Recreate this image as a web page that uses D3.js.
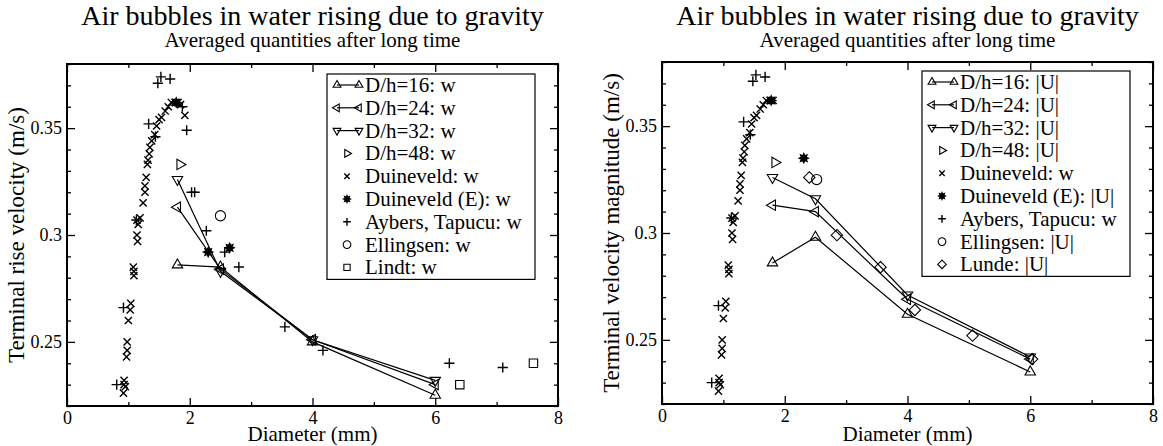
<!DOCTYPE html>
<html>
<head>
<meta charset="utf-8">
<script src="https://cdn.jsdelivr.net/npm/d3@7"></script>
<style>
	body { margin: 0; background: #fff; }
	svg { display: block; }
</style>
</head>
<body>
<div id="canvas"></div>
<script>
// Axis ticks
var ticksX = [0, 2, 4, 6, 8],
	tickLabelsX = ['0', '2', '4', '6', '8'],
	ticksY = [0.25, 0.3, 0.35],
	tickLabelsY = ['0.25', '0.3', '0.35'];

// Simulations (D/h resolution), diameter in mm
var dhDiameters = [1.8, 2.5, 4, 6];
var wDh16 = [0.286, 0.285, 0.250, 0.225],
	wDh24 = [0.313, 0.284, 0.251, 0.230],
	wDh32 = [0.326, 0.283, 0.251, 0.232],
	wDh48 = [[1.84, 0.333]];
var uDh16 = [0.286, 0.298, 0.262, 0.235],
	uDh24 = [0.313, 0.310, 0.269, 0.241],
	uDh32 = [0.326, 0.316, 0.271, 0.242],
	uDh48 = [[1.84, 0.333]];

// Experiments [diameter, velocity]
var duineveldW = [
	[0.93, 0.232], [0.95, 0.229], [0.92, 0.226], [0.93, 0.230],
	[0.97, 0.243], [0.98, 0.246], [0.98, 0.250], [1.00, 0.260],
	[1.03, 0.265], [1.04, 0.268], [1.09, 0.281], [1.09, 0.283],
	[1.08, 0.285], [1.15, 0.297], [1.14, 0.300], [1.14, 0.307],
	[1.19, 0.308], [1.16, 0.305], [1.24, 0.315], [1.27, 0.320],
	[1.27, 0.323], [1.29, 0.327], [1.31, 0.333], [1.32, 0.335],
	[1.34, 0.338], [1.35, 0.341], [1.38, 0.344], [1.43, 0.347],
	[1.46, 0.351], [1.50, 0.354], [1.54, 0.355], [1.60, 0.358],
	[1.65, 0.360], [1.70, 0.362], [1.76, 0.362], [1.81, 0.362]
];
var duineveldWExtra = [[1.85, 0.361], [1.92, 0.356]];
var duineveldEW = [[2.30, 0.292], [2.65, 0.294], [1.78, 0.362]],
	duineveldEU = [[2.31, 0.335], [1.78, 0.362]];
var aybersW = [
	[0.81, 0.230], [0.92, 0.266], [1.13, 0.307], [1.33, 0.352],
	[1.44, 0.346], [1.48, 0.371], [1.53, 0.374], [1.68, 0.373],
	[1.88, 0.360], [1.95, 0.349], [2.03, 0.320], [2.08, 0.320],
	[2.27, 0.302], [2.57, 0.292], [2.80, 0.285], [3.55, 0.257],
	[4.17, 0.246], [6.23, 0.240], [7.10, 0.238]
];
var aybersU = [
	[0.81, 0.230], [0.92, 0.266], [1.13, 0.307], [1.33, 0.352],
	[1.44, 0.346], [1.48, 0.371], [1.53, 0.374], [1.68, 0.373]
];
var ellingsenW = [[2.50, 0.309]],
	ellingsenU = [[2.52, 0.325]];
var lindtW = [[6.40, 0.230], [7.60, 0.240]];
var lundeU = [[2.40, 0.326], [2.85, 0.299], [3.56, 0.284], [4.12, 0.264], [5.06, 0.252], [6.03, 0.241]];

var fontFamily = "'Liberation Serif', 'Times New Roman', serif";

var svg = d3.select('#canvas').append('svg')
	.attr('width', 1163)
	.attr('height', 446);

// Marker shapes
function trianglePath(angle, s) {
	var p = [0, 1, 2].map(function(k) {
		var a = angle + k * 2 * Math.PI / 3;
		return [Math.cos(a) * s, Math.sin(a) * s];
	});
	return 'M' + p[0] + 'L' + p[1] + 'L' + p[2] + 'Z';
}

function symbolPath(type, s) {
	switch (type) {
		case 'triUp': return trianglePath(-Math.PI / 2, s);
		case 'triDown': return trianglePath(Math.PI / 2, s);
		case 'triLeft': return trianglePath(Math.PI, s);
		case 'triRight': return trianglePath(0, s);
		case 'cross':
			s *= 0.6;
			return 'M' + -s + ',' + -s + 'L' + s + ',' + s + 'M' + -s + ',' + s + 'L' + s + ',' + -s;
		case 'plus':
			s *= 0.85;
			return 'M' + -s + ',0L' + s + ',0M0,' + -s + 'L0,' + s;
		case 'circle':
			s *= 0.85;
			return 'M' + s + ',0A' + s + ',' + s + ' 0 1,1 ' + -s + ',0A' + s + ',' + s + ' 0 1,1 ' + s + ',0Z';
		case 'square':
			s *= 0.7;
			return 'M' + -s + ',' + -s + 'H' + s + 'V' + s + 'H' + -s + 'Z';
		case 'diamond':
			s *= 0.95;
			return 'M0,' + -s + 'L' + s + ',0L0,' + s + 'L' + -s + ',0Z';
		case 'star':
			var pts = d3.range(16).map(function(k) {
				var r = k % 2 ? s * 0.45 : s * 0.8,
					a = k * Math.PI / 8;
				return [Math.cos(a) * r, Math.sin(a) * r];
			});
			return 'M' + pts.join('L') + 'Z';
	}
}

function drawMarkers(g, pts, type, x, y, s) {
	g.selectAll(null)
		.data(pts)
		.enter()
		.append('path')
		.attr('transform', function(d) { return 'translate(' + x(d[0]) + ',' + y(d[1]) + ')'; })
		.attr('d', symbolPath(type, s))
		.attr('fill', type == 'star' ? '#000' : 'none')
		.attr('stroke', '#000')
		.attr('stroke-width', type == 'cross' || type == 'plus' ? 1.4 : 1.1);
}

// Draws one panel
function drawPanel(p) {
	var x = d3.scaleLinear().domain([0, 8]).range([p.left, p.right]),
		y = d3.scaleLinear().domain([0.22, 0.38]).range([p.bottom, p.top]),
		g = svg.append('g'),
		minorX = [1, 3, 5, 7],
		minorY = d3.range(22, 39).map(function(v) { return v / 100; })
			.filter(function(v) { return ticksY.indexOf(v) < 0; });

	// Titles
	g.append('text')
		.attr('x', (p.left + p.right) / 2)
		.attr('y', 25)
		.attr('text-anchor', 'middle')
		.attr('font-size', 28)
		.text(p.title);
	g.append('text')
		.attr('x', (p.left + p.right) / 2)
		.attr('y', 47)
		.attr('text-anchor', 'middle')
		.attr('font-size', 21)
		.text(p.subtitle);

	// Axes, ticks pointing inwards on all four sides
	var gx = g.append('g').attr('transform', 'translate(0,' + p.bottom + ')')
		.call(d3.axisBottom(x).tickValues(ticksX).tickSize(-8).tickPadding(4)
			.tickFormat(function(d, i) { return tickLabelsX[i]; }));
	g.append('g').attr('transform', 'translate(0,' + p.bottom + ')')
		.call(d3.axisBottom(x).tickValues(minorX).tickSize(-4).tickFormat(''));
	g.append('g').attr('transform', 'translate(0,' + p.top + ')')
		.call(d3.axisTop(x).tickValues(ticksX).tickSize(-8).tickFormat(''));
	g.append('g').attr('transform', 'translate(0,' + p.top + ')')
		.call(d3.axisTop(x).tickValues(minorX).tickSize(-4).tickFormat(''));
	g.append('g').attr('transform', 'translate(' + p.left + ',0)')
		.call(d3.axisLeft(y).tickValues(ticksY).tickSize(-8).tickPadding(5)
			.tickFormat(function(d, i) { return tickLabelsY[i]; }));
	g.append('g').attr('transform', 'translate(' + p.left + ',0)')
		.call(d3.axisLeft(y).tickValues(minorY).tickSize(-4).tickFormat(''));
	g.append('g').attr('transform', 'translate(' + p.right + ',0)')
		.call(d3.axisRight(y).tickValues(ticksY).tickSize(-8).tickFormat(''));
	g.append('g').attr('transform', 'translate(' + p.right + ',0)')
		.call(d3.axisRight(y).tickValues(minorY).tickSize(-4).tickFormat(''));
	g.selectAll('.domain').remove();
	g.selectAll('.tick line').attr('stroke', '#000').attr('stroke-width', 1.3);
	g.selectAll('.tick text').attr('font-size', 18);
	gx.selectAll('.tick text').attr('dy', '0.75em');

	g.append('rect')
		.attr('x', p.left)
		.attr('y', p.top)
		.attr('width', p.right - p.left)
		.attr('height', p.bottom - p.top)
		.attr('fill', 'none')
		.attr('stroke', '#000')
		.attr('stroke-width', 2);

	// Axis labels
	g.append('text')
		.attr('x', (p.left + p.right) / 2)
		.attr('y', 441)
		.attr('text-anchor', 'middle')
		.attr('font-size', 21)
		.text('Diameter (mm)');
	g.append('text')
		.attr('transform', 'translate(' + (p.left - 43) + ',' + ((p.top + p.bottom) / 2) + ') rotate(-90)')
		.attr('text-anchor', 'middle')
		.attr('font-size', 23)
		.text(p.yLabel);

	// Lines for the simulations
	var line = d3.line()
		.x(function(d, i) { return x(dhDiameters[i]); })
		.y(function(d) { return y(d); });
	p.series.forEach(function(s) {
		if (s.values) {
			g.append('path')
				.attr('d', line(s.values))
				.attr('fill', 'none')
				.attr('stroke', '#000')
				.attr('stroke-width', 1.2);
		}
	});
	p.series.forEach(function(s) {
		var pts = s.values ? s.values.map(function(v, i) { return [dhDiameters[i], v]; }) : s.points;
		drawMarkers(g, pts, s.type, x, y, 6);
	});

	// Legend
	var lg = g.append('g').attr('transform', 'translate(' + p.legendX + ',' + p.legendY + ')'),
		rowH = 22.8,
		same = function(v) { return v; };
	lg.append('rect')
		.attr('width', 208)
		.attr('height', 11 + rowH * (p.series.length - 1) + 12)
		.attr('fill', '#fff')
		.attr('stroke', '#000')
		.attr('stroke-width', 1.2);
	p.series.forEach(function(s, i) {
		var row = lg.append('g').attr('transform', 'translate(0,' + (11 + i * rowH) + ')');
		if (s.values) {
			row.append('line')
				.attr('x1', 10).attr('x2', 32)
				.attr('stroke', '#000').attr('stroke-width', 1.2);
			drawMarkers(row, [[10, 0], [32, 0]], s.type, same, same, 4.5);
		} else {
			drawMarkers(row, [[20, 0]], s.type, same, same, 4.5);
		}
		row.append('text')
			.attr('x', 38)
			.attr('dy', '0.33em')
			.attr('font-size', 21)
			.text(s.label);
	});
}

drawPanel({
	left: 67, right: 558, top: 64, bottom: 406,
	title: 'Air bubbles in water rising due to gravity',
	subtitle: 'Averaged quantities after long time',
	yLabel: 'Terminal rise velocity (m/s)',
	legendX: 327, legendY: 74,
	series: [
		{ label: 'D/h=16: w', type: 'triUp', values: wDh16 },
		{ label: 'D/h=24: w', type: 'triLeft', values: wDh24 },
		{ label: 'D/h=32: w', type: 'triDown', values: wDh32 },
		{ label: 'D/h=48: w', type: 'triRight', points: wDh48 },
		{ label: 'Duineveld: w', type: 'cross', points: duineveldW.concat(duineveldWExtra) },
		{ label: 'Duineveld (E): w', type: 'star', points: duineveldEW },
		{ label: 'Aybers, Tapucu: w', type: 'plus', points: aybersW },
		{ label: 'Ellingsen: w', type: 'circle', points: ellingsenW },
		{ label: 'Lindt: w', type: 'square', points: lindtW }
	]
});

drawPanel({
	left: 662, right: 1153, top: 62, bottom: 404,
	title: 'Air bubbles in water rising due to gravity',
	subtitle: 'Averaged quantities after long time',
	yLabel: 'Terminal velocity magnitude (m/s)',
	legendX: 922, legendY: 71,
	series: [
		{ label: 'D/h=16: |U|', type: 'triUp', values: uDh16 },
		{ label: 'D/h=24: |U|', type: 'triLeft', values: uDh24 },
		{ label: 'D/h=32: |U|', type: 'triDown', values: uDh32 },
		{ label: 'D/h=48: |U|', type: 'triRight', points: uDh48 },
		{ label: 'Duineveld: w', type: 'cross', points: duineveldW },
		{ label: 'Duineveld (E): |U|', type: 'star', points: duineveldEU },
		{ label: 'Aybers, Tapucu: w', type: 'plus', points: aybersU },
		{ label: 'Ellingsen: |U|', type: 'circle', points: ellingsenU },
		{ label: 'Lunde: |U|', type: 'diamond', points: lundeU }
	]
});

// All texts in the same serif face (the axis groups default to sans-serif)
svg.selectAll('text').attr('font-family', fontFamily).attr('fill', '#000');
</script>
</body>
</html>
